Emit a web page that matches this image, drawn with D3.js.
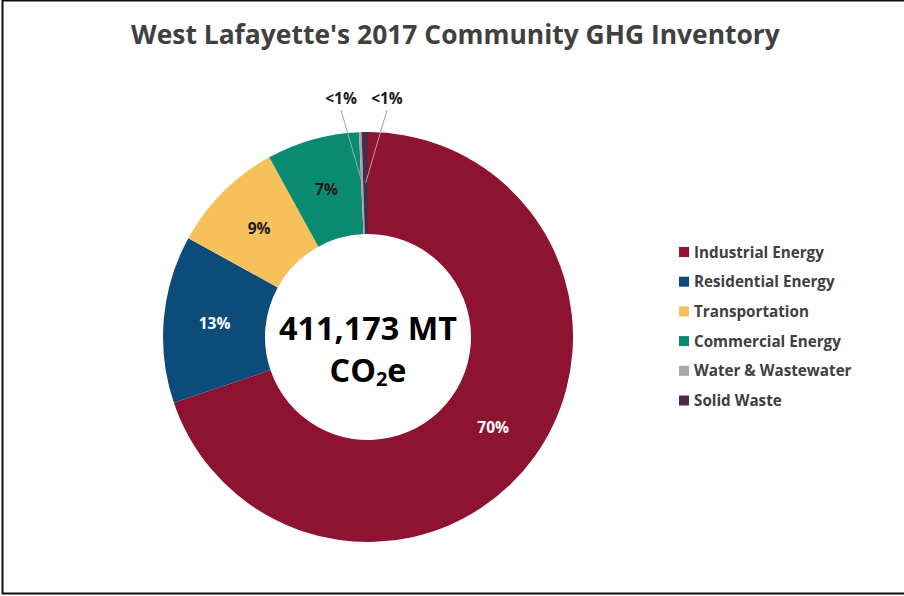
<!DOCTYPE html>
<html><head><meta charset="utf-8">
<script src="https://cdn.jsdelivr.net/npm/d3@7"></script>
<style>body{margin:0;background:#fff}svg{display:block}</style>
</head><body><svg id="c" width="904" height="596"></svg>
<script>
const categories = ["Industrial Energy","Residential Energy","Transportation","Commercial Energy","Water & Wastewater","Solid Waste"];
const shares = [69.8, 13.2, 9.0, 7.3, 0.2, 0.5];
const pctLabels = ["70%","13%","9%","7%","<1%","<1%"];
const colors = ["#8e1331","#0c4c7a","#f6c15b","#0b8a72","#aaa7a4","#4d2a49"];
const labelColors = ["#ffffff","#ffffff","#1a1a1a","#1a1a1a","#1a1a1a","#1a1a1a"];
const title = "West Lafayette's 2017 Community GHG Inventory";
const totalLine1 = "411,173 MT";

const svg = d3.select("#c");
const font = "'Open Sans', sans-serif";
function fit(sel, target){ const w = sel.node().getComputedTextLength(); const fs = parseFloat(sel.attr("font-size")); sel.attr("font-size", fs*target/w); return fs*target/w; }

// frame
svg.append("path").attr("d","M2.5,0.5 L904,0.5 M2.5,0 L2.5,593.5 L904,593.5").attr("fill","none").attr("stroke","#111").attr("stroke-width",2);

const t = svg.append("text").attr("x",455.5).attr("y",44).attr("text-anchor","middle")
  .attr("font-family",font).attr("font-weight",700).attr("font-size",24).attr("fill","#404040").text(title);
fit(t,649);

const cx=368, cy=337, R=205, r=103;
const g = svg.append("g").attr("transform",`translate(${cx},${cy})`);
const pie = d3.pie().sort(null).value(d=>d)(shares);
const arc = d3.arc().innerRadius(r).outerRadius(R);
const mid = d3.arc().innerRadius((R+r)/2).outerRadius((R+r)/2);
g.selectAll("path.s").data(pie).join("path").attr("class","s").attr("d",arc).attr("fill",(d,i)=>colors[i]);

// labels
pie.forEach((d,i)=>{
  const c = mid.centroid(d);
  if (shares[i] >= 1) {
    g.append("text").attr("x",c[0]).attr("y",c[1]+6).attr("text-anchor","middle")
     .attr("font-family",font).attr("font-weight",700).attr("font-size",15.5).attr("fill",labelColors[i]).text(pctLabels[i]);
  }
});
// small slice callouts
const small = [4,5];
const offs = {4:[-27,-233], 5:[19,-233]};
small.forEach(i=>{
  const c = mid.centroid(pie[i]);
  const o = offs[i];
  g.append("line").attr("x1",c[0]).attr("y1",c[1]).attr("x2",o[0]).attr("y2",o[1]+6)
   .attr("stroke","#a6a6a6").attr("stroke-width",1);
  g.append("text").attr("x",o[0]).attr("y",o[1]).attr("text-anchor","middle")
   .attr("font-family",font).attr("font-weight",700).attr("font-size",15.5).attr("fill","#1a1a1a").text(pctLabels[i]);
});

// centre text
const c1 = g.append("text").attr("x",0).attr("y",3).attr("text-anchor","middle")
  .attr("font-family",font).attr("font-weight",700).attr("font-size",30).attr("fill","#000").text(totalLine1);
const fsC = fit(c1,178);
const c2 = g.append("text").attr("x",0).attr("y",45).attr("text-anchor","middle")
  .attr("font-family",font).attr("font-weight",700).attr("font-size",fsC).attr("fill","#000");
c2.append("tspan").text("CO");
c2.append("tspan").attr("font-size",fsC*0.62).attr("dy",4).text("2");
c2.append("tspan").attr("dy",-4).text("e");

// legend
const lg = svg.append("g");
let lfs = null;
categories.forEach((name,i)=>{
  const y = 252 + i*29.7;
  lg.append("rect").attr("x",679).attr("y",y-5).attr("width",10).attr("height",10).attr("fill",colors[i]);
  const tx = lg.append("text").attr("x",694).attr("y",y+5.5).attr("font-family",font).attr("font-weight",700)
    .attr("font-size",14).attr("fill","#404040").text(name);
  if (i===0) lfs = fit(tx,130); else tx.attr("font-size",lfs);
});
</script></body></html>
